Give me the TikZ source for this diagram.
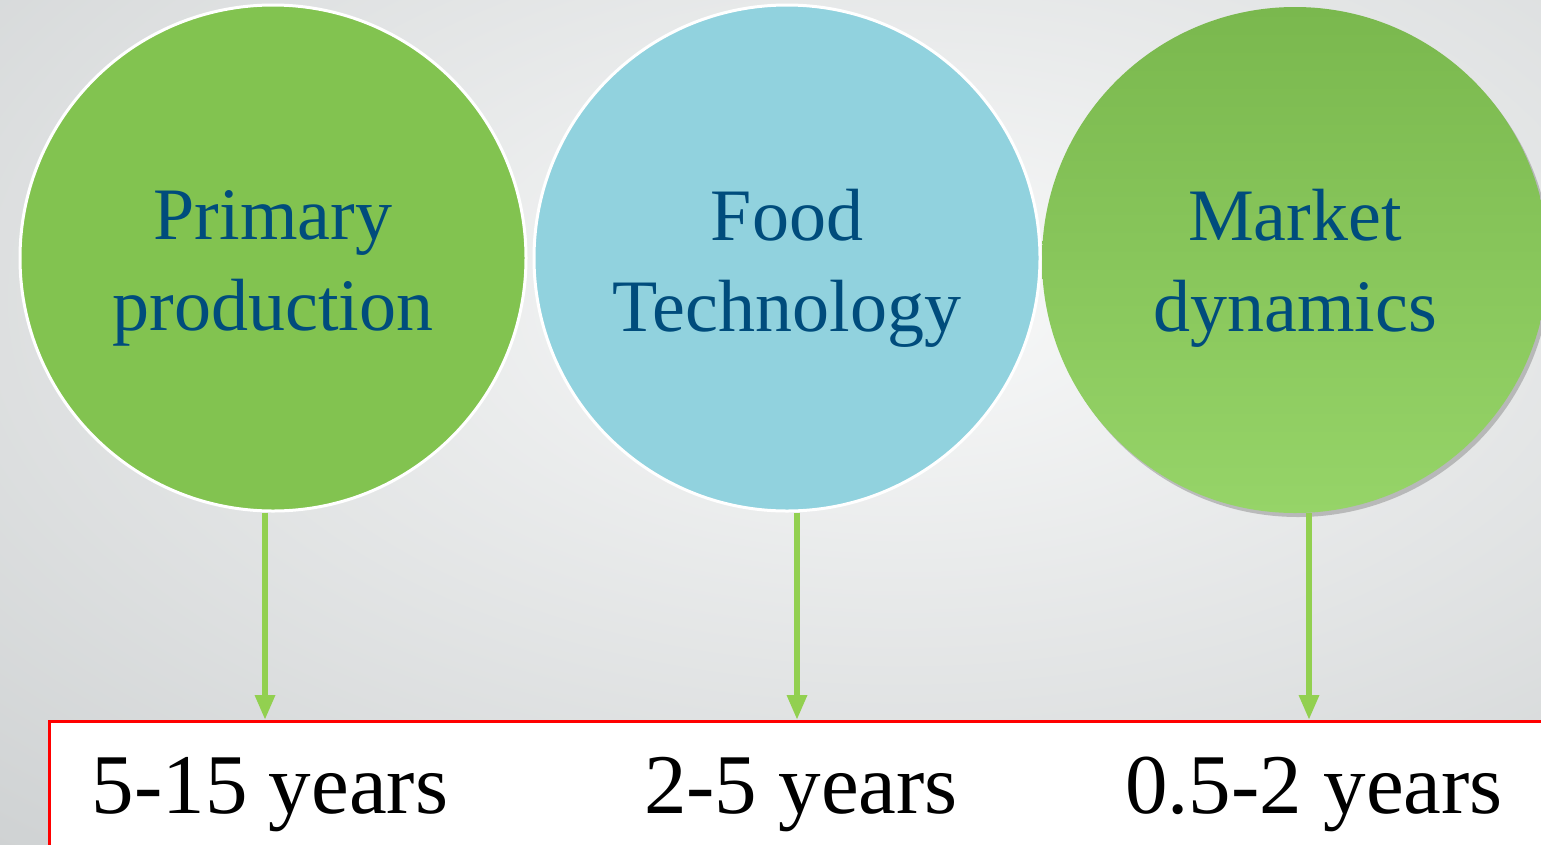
\documentclass[tikz,border=0pt]{standalone}
\usepackage{fontspec}
\setmainfont{Liberation Serif}
\usepackage{xcolor}
\usetikzlibrary{arrows.meta}
\usetikzlibrary{shadows}

\definecolor{leafgreen}{RGB}{130,195,80}
\definecolor{skyblue}{RGB}{145,210,222}
\definecolor{deepgreen}{RGB}{122,184,78}
\definecolor{palegreen}{RGB}{150,212,104}
\definecolor{arrowgreen}{RGB}{146,208,80}
\definecolor{inkblue}{RGB}{0,76,124}
\definecolor{bglight}{RGB}{248,249,249}
\definecolor{bgdark}{RGB}{206,209,210}

\tikzset{
  bubble/.style={circle, minimum size=506pt, inner sep=0pt},
  bubbletext/.style={text=inkblue, align=center, font=\fontsize{74}{91}\selectfont},
  growarrow/.style={arrowgreen, line width=6pt, -{Triangle[width=19pt,length=25pt]}},
  yearstext/.style={anchor=base, font=\fontsize{85}{90}\selectfont}
}

\begin{document}
\begin{tikzpicture}[x=1pt,y=-1pt]
\useasboundingbox (0,0) rectangle (1541,844);
\clip (0,0) rectangle (1541,844);
\shade [inner color=bglight, outer color=bgdark] (-500,-450) rectangle (2300,1050);

\node [bubble, fill=leafgreen, draw=white, line width=3pt] (prim) at (273,258) {};
\node [bubble, fill=skyblue, draw=white, line width=3pt] (food) at (787,258) {};
\node [bubble, top color=deepgreen, bottom color=palegreen,
       drop shadow={shadow xshift=3pt, shadow yshift=-4pt, opacity=0.45}] (market) at (1295,260) {};

\node [bubbletext] (primtxt) at ([yshift=-10pt]prim.center) {Primary\\production};
\node [bubbletext] (foodtxt) at ([yshift=-10pt]food.center) {Food\\Technology};
\node [bubbletext] (markettxt) at ([yshift=-8pt]market.center) {Market\\dynamics};

\node [draw=red, line width=2.5pt, fill=white, minimum width=1540pt, minimum height=170pt,
       anchor=north west, inner sep=0pt] (span) at (48,720) {};

\coordinate (tipP) at (265,720);
\coordinate (tipF) at (797,720);
\coordinate (tipM) at (1309,720);
\draw [growarrow] (prim.south -| tipP) -- (tipP);
\draw [growarrow] (food.south -| tipF) -- (tipF);
\draw [growarrow] (market.south -| tipM) -- (tipM);

\node [yearstext] (yrsPrim) at (270,813) {5-15 years};
\node [yearstext] (yrsFood) at (801,813) {2-5 years};
\node [yearstext] (yrsMarket) at (1314,813) {0.5-2 years};

\end{tikzpicture}
\end{document}
